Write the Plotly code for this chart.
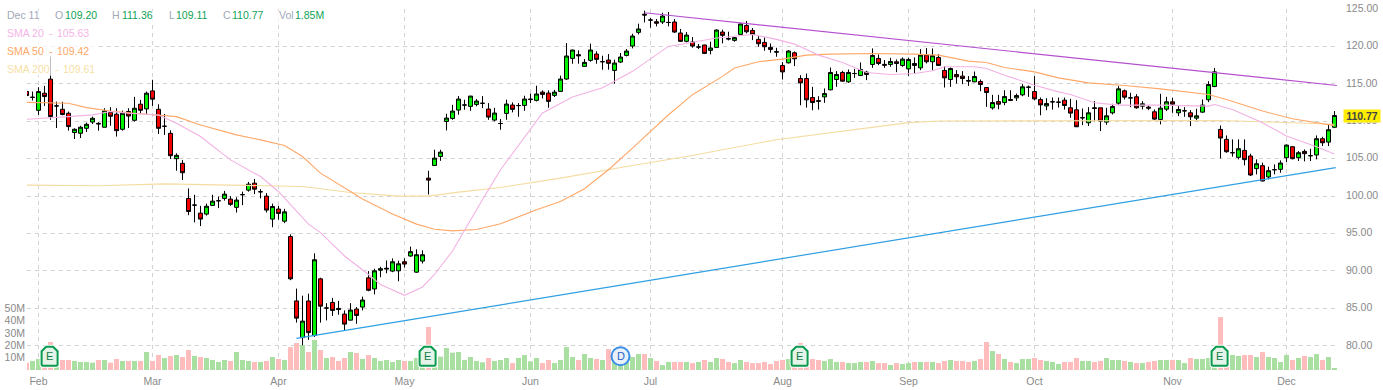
import plotly.graph_objects as go

opens = [113.97,113.2,111.47,113.75,115.63,112.05,111.6,111.07,108.5,108.4,
109.06,109.9,109.72,109.2,111.2,110.94,108.93,111.3,110.13,112.28,
111.65,114.06,111.6,109.33,108.39,105.0,104.38,99.69,98.8,97.73,
97.6,98.76,99.38,99.69,99.6,98.5,100.2,100.8,101.73,100.58,
100.0,96.93,98.27,96.65,94.6,86.0,81.1,85.99,81.37,88.95,
85.05,85.8,85.0,84.24,83.43,84.9,85.18,89.08,87.6,90.1,
90.25,89.98,90.02,91.23,92.0,89.84,91.32,102.4,104.1,105.3,
109.98,110.38,111.5,112.17,111.99,112.25,112.4,111.63,110.16,109.7,
111.05,112.17,112.1,112.12,112.9,112.79,113.9,113.77,113.46,113.99,
115.64,118.4,118.9,117.33,118.14,118.98,117.96,118.18,116.8,117.91,
118.8,120.05,121.88,124.3,123.53,123.3,123.26,123.2,123.26,121.79,
120.68,120.59,119.92,120.19,119.47,119.87,121.92,121.05,120.81,121.61,
122.8,122.14,120.94,120.54,119.87,119.3,117.46,117.81,119.15,115.71,
115.71,113.17,112.75,113.26,114.2,115.58,116.52,115.27,116.38,116.12,
116.56,117.59,118.39,117.6,117.59,117.95,117.46,117.0,117.72,117.14,
118.84,117.95,118.53,116.79,115.58,116.25,116.03,115.45,115.27,115.31,
114.51,111.79,112.63,112.5,112.9,113.13,113.53,114.55,113.97,112.9,
112.05,112.6,112.55,112.82,111.8,111.53,110.47,109.8,111.8,111.8,
109.89,111.13,112.42,114.07,113.13,113.27,112.02,111.89,111.27,110.24,
111.62,112.6,111.13,111.4,111.13,110.42,111.22,112.87,114.64,108.91,
107.58,105.8,105.18,106.11,105.36,103.67,104.07,102.56,103.53,103.58,
105.13,106.6,105.13,105.98,105.4,105.49,107.67,107.22,109.2]

highs = [114.1,113.97,114.55,114.73,118.66,112.63,112.6,111.3,109.06,109.4,
109.82,110.62,109.9,111.74,111.88,111.74,111.43,111.74,113.26,112.86,
113.97,115.54,112.28,110.98,108.79,105.71,104.82,101.03,100.18,98.7,
99.0,100.18,99.96,100.7,100.0,99.85,100.6,101.9,102.3,100.93,
100.4,99.0,98.7,98.3,94.9,87.65,86.7,86.97,92.35,89.1,
85.7,86.4,86.0,84.73,85.7,85.18,86.57,89.98,90.3,90.56,
91.4,91.68,91.37,91.68,93.25,92.9,92.76,103.39,106.2,106.2,
111.0,112.2,113.37,112.88,113.37,112.97,113.37,112.43,111.8,110.3,
112.88,112.52,112.43,113.41,113.7,114.75,114.13,114.13,114.2,116.09,
120.45,119.56,119.47,118.32,120.37,119.34,118.76,118.98,118.23,119.12,
119.65,121.7,123.04,124.78,123.8,123.66,124.5,124.6,123.66,122.33,
121.92,121.26,120.32,120.23,120.63,122.28,122.24,121.97,121.26,123.04,
123.39,122.46,121.38,121.2,120.4,119.82,117.9,119.51,119.33,116.16,
116.38,114.6,113.35,114.38,117.19,116.7,116.74,116.92,117.0,117.86,
116.74,119.73,118.93,118.17,118.48,118.26,118.53,118.48,118.53,119.64,
119.78,119.73,118.97,117.37,117.19,116.83,116.7,116.03,116.65,115.58,
114.51,113.53,113.53,114.15,114.15,113.7,114.96,114.78,116.03,113.17,
113.08,113.17,113.17,113.17,113.0,112.82,111.71,111.89,112.69,111.8,
111.8,112.33,114.69,114.24,113.8,113.62,112.69,112.11,111.58,113.67,
113.27,113.13,112.02,111.89,111.49,111.67,112.91,115.36,117.13,109.44,
108.11,107.58,107.58,107.58,105.67,104.91,104.47,103.93,104.24,104.78,
106.91,106.69,106.02,106.24,106.33,108.11,107.93,109.58,111.36]

lows = [113.3,112.77,110.85,112.05,110.2,109.1,110.8,108.75,107.63,107.77,
108.57,109.64,108.75,109.2,109.4,107.95,108.75,109.1,109.96,110.97,
110.98,112.05,108.3,108.17,104.96,103.39,102.14,97.46,96.5,96.0,
97.4,98.7,98.4,99.4,98.7,97.8,98.8,100.6,100.27,99.7,
97.8,95.84,96.87,96.4,88.77,83.1,80.07,80.8,81.2,83.1,
83.4,84.0,84.15,82.1,83.4,82.94,84.73,87.29,86.88,89.17,
89.7,89.84,88.63,90.47,91.9,89.75,91.0,100.22,104.05,104.72,
108.78,110.2,110.87,111.54,111.4,112.0,111.76,110.2,109.98,108.87,
110.2,111.19,110.6,111.4,112.43,112.65,113.05,111.81,113.24,113.95,
115.55,117.69,117.69,117.33,117.96,117.69,116.89,116.89,115.02,117.78,
118.67,119.74,121.6,123.2,122.5,122.68,123.0,122.68,121.8,120.59,
120.54,119.83,119.65,118.98,118.94,119.87,120.41,120.8,120.63,121.57,
121.74,120.85,119.96,119.42,119.15,118.62,115.58,117.72,117.37,112.14,
111.83,111.47,111.56,112.46,114.15,114.6,115.27,115.13,115.8,116.03,
115.5,117.14,117.5,117.14,117.28,116.56,117.28,116.07,116.38,116.83,
117.72,116.83,117.41,114.51,114.6,115.04,114.96,114.73,115.22,114.02,
111.92,111.56,111.6,112.14,112.7,112.72,113.35,113.26,112.81,110.8,
111.47,111.56,111.83,111.56,110.47,109.22,109.49,109.36,110.02,108.69,
109.53,110.91,112.2,112.91,111.89,111.67,111.58,111.49,110.16,109.58,
111.36,111.13,110.69,110.6,109.36,110.02,111.13,112.56,114.56,105.04,
105.8,105.27,104.91,104.11,102.69,102.91,101.98,102.24,102.91,103.13,
104.56,104.91,104.69,104.64,104.69,104.91,106.69,106.69,109.11]

closes = [113.44,113.2,113.97,113.3,110.63,112.05,110.9,109.29,108.93,109.2,
109.6,110.4,109.65,111.38,110.67,108.75,111.07,110.7,111.74,111.47,
113.75,112.95,109.06,109.33,105.4,105.45,103.13,97.95,98.8,96.93,
98.65,99.33,99.38,100.27,98.9,99.47,100.2,101.6,100.93,100.58,
98.13,98.62,97.69,97.9,88.95,83.7,83.3,81.77,91.5,85.3,
85.05,84.73,84.85,82.9,84.78,84.06,86.12,87.42,90.02,90.3,
90.35,91.23,90.96,90.92,92.58,92.17,92.17,102.14,105.08,105.88,
110.43,111.36,112.97,112.17,113.37,112.7,112.4,110.56,111.1,109.7,
112.3,111.59,112.1,112.97,112.95,113.64,113.59,112.66,113.9,115.64,
118.72,119.52,118.75,117.87,119.52,118.27,117.96,117.74,117.78,118.58,
119.38,121.39,122.33,124.2,123.53,123.1,124.06,123.2,121.92,120.68,
121.52,120.05,119.92,119.07,119.79,122.19,121.48,121.0,121.17,123.0,
121.96,121.6,120.36,119.96,119.6,119.25,116.6,119.38,118.35,115.13,
112.86,112.5,112.68,113.7,116.52,116.25,115.36,116.52,116.38,116.92,
116.25,118.79,117.72,117.5,117.99,117.72,118.3,118.26,117.46,118.84,
117.95,118.75,117.46,115.8,117.05,115.94,115.71,115.38,115.98,114.91,
113.84,112.5,112.28,113.3,112.8,113.44,114.6,114.55,112.99,112.19,
112.37,112.6,112.55,112.11,111.09,109.27,110.47,111.13,111.72,110.02,
110.73,111.98,114.33,113.22,113.13,111.8,112.33,111.76,110.29,111.76,
112.6,112.29,111.58,111.4,110.6,110.73,112.16,114.91,116.6,107.76,
105.93,105.8,106.33,104.87,102.82,104.33,102.02,103.4,103.53,104.42,
106.82,105.0,105.8,105.67,105.4,107.67,107.13,108.87,110.77]

volumes = [5.9,7.3,8.9,7.3,22.6,8,8.1,8.1,7.3,6.5,
6.5,5.9,8.1,8.1,5.9,8.9,7.3,7.3,7.3,7.3,
14.5,7.3,12.1,9.7,11.3,12.1,10.5,16.1,11.3,10.5,
9.7,8.1,6.5,8.1,7.3,14.5,8.1,7.3,6.5,6.5,
7.3,10.5,8.9,8.1,18.5,21.8,20.2,14.5,24.2,16.1,
9.7,10.5,7.3,9.7,14.5,13.7,8.9,12.1,9.7,7.3,
8.1,6.5,8.1,7.3,7.3,9.7,12.1,34.7,10.5,10.8,
17.7,14,14.5,8.1,10.5,7.3,6.2,9.7,7.3,8.1,
9.7,5.6,9.7,12.1,7,9.7,5.6,8.1,5.6,8.1,
18.5,10.5,8.1,12.9,9.7,8.9,8.1,16.9,11,8,
6.7,10.5,12.9,12.9,9.7,7.3,4,6.5,6.5,6.5,
6.5,5.6,6.5,8.1,6.5,9.7,8.9,6.5,5.6,8.1,
6.5,5.6,5.6,6.5,4.8,7.3,8.1,8.9,9,21.8,
9,8.9,8.1,7.3,8.9,6.5,6.5,5.6,5.6,6.5,
6.5,7.3,5.6,5.6,4,5.6,4.8,5.6,6.5,6.5,
6.5,6.5,5.6,7.3,8.1,7.3,7.3,6.5,7.3,8.9,
22.6,15.3,12.9,8.9,6.5,5.6,8.9,8.9,9.7,8.1,
7.3,6.5,4.8,6.5,6.5,9.7,7.3,7.3,6.5,7.3,
9.7,8.1,8.1,7.3,6.5,5.6,5.6,6.5,7.3,8.1,
8.1,8.1,8.1,5.6,9.7,8.9,8.9,9.7,8,42.7,
9,12.1,11.3,12.1,12.1,10.5,14.5,10.5,9.7,6.5,
12.1,8.1,9.7,11.3,10.5,12.9,8.1,10.5,1.6]

sma20_idx = [0,3,7,11,14,17,22,25,29,34,39,42,47,49,53,57,59,63,66,68,71,75,79,86,91,96,101,107,111,115,121,125,128,132,136,140,144,148,151,153,158,160,163,168,172,174,178,182,189,197,198,201,206,210,215,218]
sma20_val = [110.27,110.4,110.62,110.85,111.3,111.07,110.84,109.73,107.96,104.84,102.62,100.62,96.26,95.13,92.0,89.53,88.18,86.75,87.87,89.53,92.67,98.17,103.52,111.1,113.24,114.48,116.67,120.0,120.54,121.12,121.6,120.94,120.31,118.84,117.86,116.52,116.25,116.38,116.74,117.28,117.28,117.05,116.16,114.82,113.93,113.58,112.47,112.16,112.16,112.02,112.24,111.58,109.8,108.02,106.6,105.63]

sma50_idx = [0,7,10,14,18,22,25,29,35,39,43,46,49,54,56,61,65,68,71,75,79,85,89,93,97,101,107,111,116,118,122,126,130,134,141,148,152,157,160,163,168,172,177,183,189,197,200,206,211,218]
sma50_val = [112.53,112.4,111.82,111.38,111.07,110.84,110.62,109.51,108.18,107.51,106.76,105.29,103.07,100.62,99.62,97.6,96.26,95.58,95.36,95.55,96.3,98.17,99.29,100.98,103.52,106.42,110.87,113.55,116.0,117.11,117.95,118.3,118.84,118.97,119.06,118.97,118.84,118.04,117.86,117.19,116.6,115.8,115.13,114.78,114.33,113.58,112.91,111.36,110.33,109.42]

sma200_idx = [0,12,23,35,46,54,62,67,72,79,89,101,110,125,133,141,147,152,160,172,183,199,206,218]
sma200_val = [101.47,101.38,101.64,101.47,101.29,100.49,100.0,100.0,100.53,101.16,102.41,104.1,105.3,107.54,108.35,109.24,109.82,110.04,110.04,110.02,110.11,110.11,109.93,109.61]

resistance_idx = [103, 218.4]
resistance_val = [124.5, 114.78]
support_idx = [45, 218.2]
support_val = [81.0, 103.8]

month_idx = [2,21,42,63,84,104,126,147,168,191,210]
month_lbl = ["Feb","Mar","Apr","May","Jun","Jul","Aug","Sep","Oct","Nov","Dec"]
price_ticks = [80,85,90,95,100,105,110,115,120,125]
vol_ticks = [10,20,30,40,50]
earnings_idx = [4,67,129,199]
dividend_idx = [99]
BADGE_LEVEL = 11.1
last_close = closes[-1]

GREY = "#8a8a8a"
FONT = "Liberation Sans"
UP_BAR, DOWN_BAR = "#a9e0a2", "#ffbcbc"
bar_colors = [UP_BAR if c >= o else DOWN_BAR for o, c in zip(opens, closes)]
x = list(range(len(closes)))

fig = go.Figure()
fig.add_bar(x=x, y=volumes, marker=dict(color=bar_colors, line_width=0), yaxis="y", hoverinfo="skip")
for idx, val, col in [(sma200_idx, sma200_val, "#f5dca0"), (sma50_idx, sma50_val, "#ffa869"), (sma20_idx, sma20_val, "#f2b2e4")]:
    fig.add_scatter(x=idx, y=val, mode="lines", line=dict(color=col, width=1.1), yaxis="y2", hoverinfo="skip")
fig.add_candlestick(x=x, open=opens, high=highs, low=lows, close=closes, yaxis="y2",
    increasing=dict(line=dict(color="#000000", width=1), fillcolor="#00f000"),
    decreasing=dict(line=dict(color="#000000", width=1), fillcolor="#f00000"),
    whiskerwidth=0, hoverinfo="skip")
fig.add_scatter(x=resistance_idx, y=resistance_val, mode="lines", line=dict(color="#b650cf", width=1.2), yaxis="y2", hoverinfo="skip")
fig.add_scatter(x=support_idx, y=support_val, mode="lines", line=dict(color="#2f9fe3", width=1.2), yaxis="y2", hoverinfo="skip")

PW, PH, PB = 1310, 361.2, 370.5
shapes = [
    dict(type="rect", xref="paper", yref="paper", x0=-27/PW, x1=(330-27)/PW, y0=(PB-21)/PH, y1=(PB-11)/PH, fillcolor="rgba(255,255,255,0.75)", line_width=0),
    dict(type="rect", xref="paper", yref="paper", x0=-27/PW, x1=(95-27)/PW, y0=(PB-76)/PH, y1=(PB-25)/PH, fillcolor="rgba(255,255,255,0.75)", line_width=0),
]
BADGE = "M-8,5 L-3.5,9.5 L3.5,9.5 L8,5 L8,-8 Q8,-9.5 6.5,-9.5 L-6.5,-9.5 Q-8,-9.5 -8,-8 Z"
anns = []
for e in earnings_idx:
    base = dict(type="path", xref="x", yref="y", xsizemode="pixel", ysizemode="pixel", xanchor=e-0.15, yanchor=BADGE_LEVEL, path=BADGE, layer="above")
    shapes.append(dict(base, fillcolor="white", line=dict(color="white", width=4)))
    shapes.append(dict(base, fillcolor="#e5f4e9", line=dict(color="#0a9b50", width=2)))
    anns.append(dict(x=e-0.15, y=BADGE_LEVEL, xref="x", yref="y", text="E", showarrow=False, font=dict(size=11, color="#127a43", family=FONT)))
for d in dividend_idx:
    shapes.append(dict(type="circle", xref="x", yref="y", xsizemode="pixel", ysizemode="pixel", xanchor=d, yanchor=BADGE_LEVEL, x0=-9, x1=9, y0=-9, y1=9, fillcolor="#e8f1fb", line=dict(color="#3a8ee6", width=2), layer="above"))
    anns.append(dict(x=d, y=BADGE_LEVEL, xref="x", yref="y", text="D", showarrow=False, font=dict(size=11, color="#2a63c4", family=FONT)))

def label(px, py, text, color):
    anns.append(dict(xref="paper", yref="paper", x=(px-27)/PW, y=(PB-py)/PH, xanchor="left", yanchor="middle", text=text, showarrow=False, font=dict(size=10.5, color=color, family=FONT), borderpad=0))

LBL, VAL = "#a2a8b8", "#0fa355"
for px, t, c in [(5.5,"Dec 11",LBL),(54,"O",LBL),(64,"109.20",VAL),(111.5,"H",LBL),(121,"111.36",VAL),(167.5,"L",LBL),(175,"109.11",VAL),(221.5,"C",LBL),(231,"110.77",VAL),(277.5,"Vol",LBL),(294,"1.85M",VAL)]:
    label(px, 15, t, c)
for py, px_val, name, val, c in [(33,55.5,"SMA 20","105.63","#f6b4e6"),(51,55.5,"SMA 50","109.42","#ffa869"),(69,61.5,"SMA 200","109.61","#f7dfa6")]:
    label(5.5, py, name, c)
    label(px_val-8, py, "-", c)
    label(px_val, py, val, c)
anns.append(dict(xref="paper", yref="y2", x=(1342.7-27)/PW, y=last_close, xanchor="left", yanchor="middle", text=f"<b>{last_close:.2f}</b>", showarrow=False,
    font=dict(size=10.5, color="#444444", family=FONT), bgcolor="#ffee00", width=36, height=12, borderpad=0, align="center"))

grid = dict(showgrid=True, gridcolor="#d2d2d2", griddash="4px,4px", gridwidth=1, zeroline=False, showline=False)
fig.update_layout(
    width=1383, height=390, margin=dict(l=27, r=46, t=9.3, b=19.5, pad=0, autoexpand=False),
    paper_bgcolor="white", plot_bgcolor="white", showlegend=False, bargap=1/6, boxgap=1/3, boxgroupgap=0,
    font=dict(family=FONT, size=10.5, color=GREY),
    xaxis=dict(grid, range=[0.0833333, 218.4166667], tickmode="array", tickvals=month_idx, ticktext=month_lbl, ticks="", rangeslider=dict(visible=False), ticklabelstandoff=3),
    yaxis=dict(range=[0, 291.3], side="left", tickmode="array", tickvals=vol_ticks, ticktext=[f"{v}M" for v in vol_ticks], showgrid=False, zeroline=False, ticks="", ticklabelstandoff=1),
    yaxis2=dict(grid, overlaying="y", side="right", range=[76.77, 125], tickmode="array", tickvals=price_ticks, tickformat=".2f", ticks="", ticklabelstandoff=8, ticklabelshift=-1),
    shapes=shapes, annotations=anns,
)
fig.write_html("out.html", config=dict(displayModeBar=False), post_script="document.body.style.margin='0';document.body.style.overflow='hidden';")
